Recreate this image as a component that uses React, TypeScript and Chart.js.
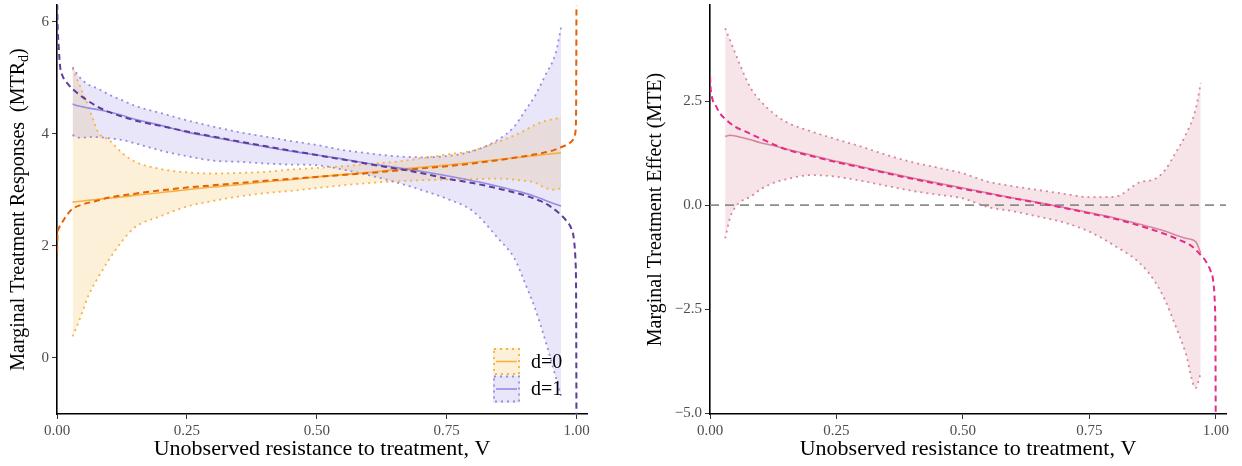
import React, { useEffect, useRef } from "react";
import { Chart, registerables } from "chart.js";
Chart.register(...registerables);

// ---------- data ----------
const vBand = [0.03, 0.04, 0.05, 0.06, 0.08, 0.1, 0.125, 0.15, 0.2, 0.25, 0.3, 0.35, 0.4, 0.45, 0.5, 0.55, 0.6, 0.65, 0.7, 0.75, 0.8, 0.85, 0.88, 0.9, 0.92, 0.94, 0.96, 0.97];

const mtr0Est = [2.78, 2.79, 2.8, 2.81, 2.83, 2.85, 2.87, 2.9, 2.95, 3.0, 3.05, 3.09, 3.14, 3.18, 3.23, 3.27, 3.31, 3.36, 3.4, 3.44, 3.49, 3.54, 3.57, 3.59, 3.61, 3.63, 3.65, 3.66];
const mtr0Upper = [5.17, 4.95, 4.72, 4.5, 4.02, 3.89, 3.66, 3.5, 3.37, 3.31, 3.29, 3.3, 3.32, 3.36, 3.39, 3.42, 3.46, 3.5, 3.56, 3.63, 3.7, 3.86, 3.97, 4.06, 4.16, 4.23, 4.27, 4.28];
const mtr0Lower = [0.38, 0.6, 0.85, 1.1, 1.45, 1.75, 2.08, 2.33, 2.53, 2.7, 2.8, 2.88, 2.94, 2.98, 3.03, 3.08, 3.12, 3.15, 3.17, 3.18, 3.19, 3.2, 3.18, 3.16, 3.13, 3.03, 3.0, 3.03];

const mtr1Est = [4.53, 4.5, 4.48, 4.46, 4.43, 4.39, 4.33, 4.26, 4.15, 4.03, 3.94, 3.85, 3.77, 3.69, 3.62, 3.55, 3.47, 3.4, 3.33, 3.25, 3.16, 3.06, 2.99, 2.94, 2.88, 2.81, 2.74, 2.71];
const mtr1Upper = [5.19, 5.05, 4.95, 4.88, 4.8, 4.7, 4.6, 4.5, 4.37, 4.24, 4.13, 4.03, 3.95, 3.87, 3.8, 3.71, 3.65, 3.6, 3.58, 3.6, 3.69, 3.9, 4.13, 4.4, 4.68, 5.05, 5.45, 5.9];
const mtr1Lower = [3.98, 3.93, 3.93, 3.94, 3.94, 3.92, 3.89, 3.83, 3.7, 3.6, 3.52, 3.5, 3.47, 3.45, 3.44, 3.36, 3.26, 3.14, 3.0, 2.84, 2.62, 2.12, 1.78, 1.35, 0.88, 0.3, -0.35, -0.68];

const mteEst = [1.65, 1.68, 1.66, 1.63, 1.57, 1.5, 1.43, 1.35, 1.2, 1.05, 0.92, 0.78, 0.65, 0.53, 0.41, 0.29, 0.17, 0.06, -0.06, -0.18, -0.31, -0.46, -0.56, -0.63, -0.72, -0.8, -0.88, -1.15];
const mteUpper = [4.25, 3.95, 3.65, 3.35, 2.82, 2.5, 2.21, 2.0, 1.77, 1.58, 1.4, 1.2, 1.03, 0.9, 0.76, 0.56, 0.45, 0.36, 0.27, 0.19, 0.2, 0.55, 0.63, 0.85, 1.25, 1.68, 2.3, 2.93];
const mteLower = [-0.8, -0.29, -0.05, 0.08, 0.2, 0.38, 0.53, 0.62, 0.72, 0.68, 0.58, 0.46, 0.34, 0.25, 0.16, -0.05, -0.15, -0.28, -0.42, -0.64, -0.98, -1.4, -1.85, -2.3, -2.9, -3.55, -4.4, -4.04];

const vTrue = [0.0002, 0.001, 0.003, 0.006, 0.01, 0.02, 0.03, 0.05, 0.075, 0.1, 0.15, 0.2, 0.25, 0.3, 0.4, 0.5, 0.6, 0.7, 0.75, 0.8, 0.85, 0.9, 0.93, 0.95, 0.97, 0.98, 0.99, 0.995, 0.998, 0.999, 0.9998];
const mtr0True = [1.9, 2.2, 2.3, 2.36, 2.42, 2.56, 2.66, 2.74, 2.8, 2.86, 2.93, 2.99, 3.04, 3.08, 3.16, 3.23, 3.3, 3.38, 3.42, 3.47, 3.53, 3.6, 3.65, 3.69, 3.76, 3.8, 3.86, 3.92, 4.05, 4.4, 6.5];
const mtr1True = [6.5, 6.0, 5.6, 5.2, 5.05, 4.9, 4.8, 4.65, 4.5, 4.39, 4.24, 4.14, 4.04, 3.95, 3.78, 3.62, 3.46, 3.3, 3.2, 3.12, 3.02, 2.9, 2.8, 2.7, 2.55, 2.45, 2.3, 2.1, 1.7, 1.2, -1.5];
const mteTrue = [3.1, 2.85, 2.65, 2.5, 2.42, 2.2, 2.07, 1.88, 1.74, 1.6, 1.34, 1.18, 1.03, 0.9, 0.63, 0.39, 0.16, -0.07, -0.2, -0.33, -0.5, -0.7, -0.85, -0.97, -1.2, -1.35, -1.6, -1.85, -2.4, -3.0, -5.5];

const xTicks = [0, 0.25, 0.5, 0.75, 1];
const yTicksLeft = [0, 2, 4, 6];
const yTicksRight = [-5, -2.5, 0, 2.5];
const legendLabels = ["d=0", "d=1"];
const xTitle = "Unobserved resistance to treatment, V";
const yTitleLeft = "Marginal Treatment Responses  (MTR";
const yTitleLeftSub = "d";
const yTitleRight = "Marginal Treatment Effect (MTE)";

// ---------- styles ----------
const ORANGE = "rgb(247,178,66)";
const ORANGE_FILL = "rgba(247,178,66,0.2)";
const ORANGE_DARK = "#E66101";
const PURPLE = "rgb(150,140,225)";
const PURPLE_FILL = "rgba(150,140,222,0.22)";
const PURPLE_DARK = "#5E3C99";
const PINK = "rgb(214,135,155)";
const PINK_FILL = "rgba(216,140,160,0.23)";
const MAGENTA = "#E7298A";
const SERIF = "'Liberation Serif', 'DejaVu Serif', serif";

const pts = (xs: number[], ys: number[]) => xs.map((x, i) => ({ x, y: ys[i] }));

const solid = (data: any, color: string) => ({
  data, borderColor: color, borderWidth: 1.6, pointRadius: 0, fill: false,
  cubicInterpolationMode: "monotone",
});
const dashed = (data: any, color: string) => ({
  data, borderColor: color, borderWidth: 2, borderDash: [6, 4], pointRadius: 0, fill: false,
  cubicInterpolationMode: "monotone",
});
const dotted = (data: any, color: string, fillColor?: string) => ({
  data, borderColor: color, borderWidth: 1.8, borderDash: [2, 4], pointRadius: 0,
  backgroundColor: fillColor || "transparent",
  fill: fillColor ? "+1" : false,
  cubicInterpolationMode: "monotone",
});

function makeScales(yMin: number, yMax: number, yTicks: number[], yWidth: number, yFmt: (v: number) => string) {
  const tickFont = { family: SERIF, size: 15 };
  return {
    x: {
      type: "linear", min: 0, max: 1.02,
      afterBuildTicks: (s: any) => { s.ticks = xTicks.map((v) => ({ value: v })); },
      afterFit: (s: any) => { s.height = 52; s.paddingLeft = 0; s.paddingRight = 0; },
      ticks: { font: tickFont, color: "#4D4D4D", padding: 3, maxRotation: 0, callback: (v: any) => Number(v).toFixed(2) },
      grid: { display: true, drawOnChartArea: false, drawTicks: true, tickLength: 5, tickColor: "#333", tickWidth: 1 },
      border: { display: true, color: "#000", width: 1.6 },
    },
    y: {
      type: "linear", min: yMin, max: yMax,
      afterBuildTicks: (s: any) => { s.ticks = yTicks.map((v) => ({ value: v })); },
      afterFit: (s: any) => { s.width = yWidth; s.paddingTop = 0; s.paddingBottom = 0; },
      ticks: { font: tickFont, color: "#4D4D4D", padding: 3, callback: (v: any) => yFmt(Number(v)) },
      grid: { display: true, drawOnChartArea: false, drawTicks: true, tickLength: 5, tickColor: "#333", tickWidth: 1 },
      border: { display: true, color: "#000", width: 1.6 },
    },
  };
}

const titlesPlugin = (yMain: string, ySub: string | null, yTitleX: number, legend: boolean) => ({
  id: "titles",
  afterDraw(chart: any) {
    const { ctx, chartArea } = chart;
    ctx.save();
    ctx.fillStyle = "#000";
    ctx.font = `22px ${SERIF}`;
    ctx.textAlign = "center";
    ctx.textBaseline = "middle";
    ctx.fillText(xTitle, (chartArea.left + chartArea.right) / 2, 449);

    // y title rotated
    ctx.font = `20px ${SERIF}`;
    const mainW = ctx.measureText(yMain).width;
    let subW = 0, closeW = 0;
    if (ySub) {
      ctx.font = `14px ${SERIF}`;
      subW = ctx.measureText(ySub).width;
      ctx.font = `20px ${SERIF}`;
      closeW = ctx.measureText(")").width;
    }
    const total = mainW + subW + closeW;
    const cy = (chartArea.top + chartArea.bottom) / 2;
    ctx.translate(yTitleX, cy);
    ctx.rotate(-Math.PI / 2);
    ctx.textAlign = "left";
    ctx.textBaseline = "middle";
    let x0 = -total / 2;
    ctx.fillText(yMain, x0, 0);
    if (ySub) {
      x0 += mainW;
      ctx.font = `14px ${SERIF}`;
      ctx.fillText(ySub, x0, 5);
      x0 += subW;
      ctx.font = `20px ${SERIF}`;
      ctx.fillText(")", x0, 0);
    }
    ctx.restore();

    if (legend) {
      const items = [
        { fill: ORANGE_FILL, stroke: ORANGE, label: legendLabels[0] },
        { fill: PURPLE_FILL, stroke: PURPLE, label: legendLabels[1] },
      ];
      ctx.save();
      items.forEach((it, i) => {
        const w = 27, h = 27;
        const x = chartArea.right - 94;
        const y = chartArea.bottom - 66 + i * 27.5;
        ctx.fillStyle = it.fill;
        ctx.fillRect(x, y, w, h);
        ctx.setLineDash([2, 4]);
        ctx.strokeStyle = it.stroke;
        ctx.lineWidth = 1.8;
        ctx.strokeRect(x + 1, y + 1, w - 2, h - 2);
        ctx.setLineDash([]);
        ctx.lineWidth = 1.6;
        ctx.beginPath();
        ctx.moveTo(x + 3, y + h / 2);
        ctx.lineTo(x + w - 3, y + h / 2);
        ctx.stroke();
        ctx.fillStyle = "#000";
        ctx.font = `20px ${SERIF}`;
        ctx.textAlign = "left";
        ctx.textBaseline = "middle";
        ctx.fillText(it.label, x + 38, y + h / 2 + 1);
      });
      ctx.restore();
    }
  },
});

function makeConfig(datasets: any[], scales: any, plugin: any, padRight: number) {
  return {
    type: "line",
    data: { datasets },
    options: {
      animation: false,
      responsive: false,
      maintainAspectRatio: false,
      devicePixelRatio: 1,
      parsing: true,
      layout: { padding: { top: 5, right: padRight, left: 0, bottom: 0 } },
      scales,
      plugins: {
        legend: { display: false },
        tooltip: { enabled: false },
        filler: { drawTime: "beforeDatasetsDraw", propagate: false },
      },
    },
    plugins: [plugin],
  };
}

export default function App() {
  const leftRef = useRef<HTMLCanvasElement>(null);
  const rightRef = useRef<HTMLCanvasElement>(null);

  useEffect(() => {
    const leftDatasets = [
      dashed(pts(vTrue, mtr1True), PURPLE_DARK),
      dashed(pts(vTrue, mtr0True), ORANGE_DARK),
      solid(pts(vBand, mtr1Est), PURPLE),
      solid(pts(vBand, mtr0Est), ORANGE),
      dotted(pts(vBand, mtr1Upper), PURPLE, PURPLE_FILL),
      dotted(pts(vBand, mtr1Lower), PURPLE),
      dotted(pts(vBand, mtr0Upper), ORANGE, ORANGE_FILL),
      dotted(pts(vBand, mtr0Lower), ORANGE),
    ];
    const rightDatasets = [
      dashed(pts(vTrue, mteTrue), MAGENTA),
      solid(pts(vBand, mteEst), PINK),
      { data: [{ x: 0, y: 0 }, { x: 1.02, y: 0 }], borderColor: "#8C8C8C", borderWidth: 1.8, borderDash: [9, 6], pointRadius: 0, fill: false },
      dotted(pts(vBand, mteUpper), PINK, PINK_FILL),
      dotted(pts(vBand, mteLower), PINK),
    ];
    const left = new Chart(leftRef.current as any, makeConfig(
      leftDatasets,
      makeScales(-1.005, 6.3, yTicksLeft, 57, (v) => String(v)),
      titlesPlugin(yTitleLeft, yTitleLeftSub, 19, true),
      33,
    ) as any);
    const right = new Chart(rightRef.current as any, makeConfig(
      rightDatasets,
      makeScales(-5.024, 4.81, yTicksRight, 90, (v) => (v < 0 ? "\u2212" : "") + Math.abs(v).toFixed(1)),
      titlesPlugin(yTitleRight, null, 36, false),
      16,
    ) as any);
    return () => { left.destroy(); right.destroy(); };
  }, []);

  return (
    <div style={{ position: "fixed", left: 0, top: 0, width: 1242, height: 466, background: "#fff" }}>
      <canvas ref={leftRef} width={620} height={466} style={{ position: "absolute", left: 0, top: 0, width: 620, height: 466 }} />
      <canvas ref={rightRef} width={622} height={466} style={{ position: "absolute", left: 620, top: 0, width: 622, height: 466 }} />
    </div>
  );
}
